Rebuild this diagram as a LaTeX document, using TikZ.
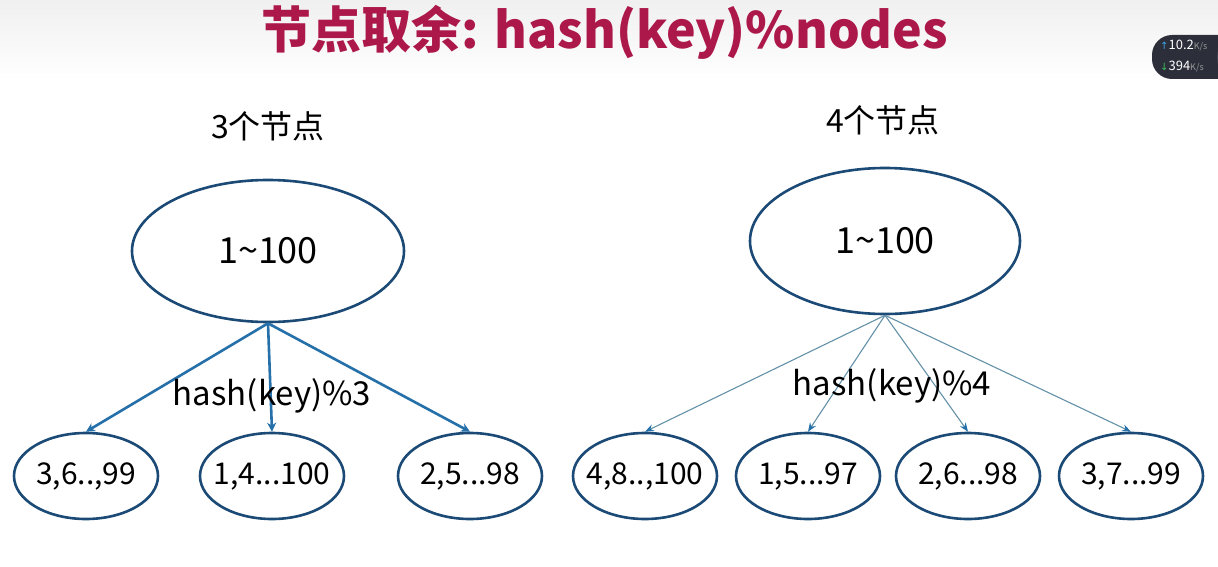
\documentclass[tikz,border=0pt]{standalone}
\usepackage{fontspec}
\setmainfont{Noto Sans CJK SC}
\newfontfamily\symfont{DejaVu Sans}
\usetikzlibrary{arrows.meta,shapes.geometric}
\definecolor{titlered}{RGB}{172,24,74}
\definecolor{ellblue}{RGB}{28,74,118}
\definecolor{arrblue}{RGB}{38,112,170}
\definecolor{arrgrey}{RGB}{100,145,168}
\definecolor{widgetbg}{RGB}{44,47,58}
\definecolor{widgetbtn}{RGB}{66,70,82}
\definecolor{upblue}{RGB}{60,160,230}
\definecolor{downgreen}{RGB}{60,190,90}
\tikzset{
  bigell/.style={ellipse, draw=ellblue, line width=2.6pt, minimum width=272pt, minimum height=142pt, font=\fontsize{36}{40}\selectfont, inner sep=0pt},
  smallell/.style={ellipse, draw=ellblue, line width=2.6pt, minimum width=144pt, minimum height=86pt, font=\fontsize{30}{34}\selectfont, inner sep=0pt},
  heading/.style={font=\fontsize{32}{36}\selectfont, inner sep=0pt},
  hashlabel/.style={font=\fontsize{33}{36}\selectfont, inner sep=0pt},
  thickarrow/.style={draw=arrblue, line width=2.6pt, -{Stealth[length=9pt,width=9pt]}},
  thinarrow/.style={draw=arrgrey, line width=1.1pt, -{Stealth[length=9pt,width=7pt,fill=arrblue,color=arrblue]}},
  widgettext/.style={anchor=west, inner sep=0pt, text=white, font=\fontsize{13}{14}\selectfont},
}
\newcommand{\fixw}[1]{\makebox[0pt][c]{#1}}
\begin{document}
\begin{tikzpicture}[x=1pt,y=-1pt]
\useasboundingbox (0,0) rectangle (1218,567);
\fill[white] (0,0) rectangle (1218,567);
\shade[top color=black!6, bottom color=white] (0,0) rectangle (1218,80);

% title
\node[font=\fontsize{50}{56}\selectfont\bfseries, text=titlered, inner sep=0pt] (title) at (605,32) {节点取余: hash(key)\%nodes};

% widget
\begin{scope}
\clip (0,0) rectangle (1218,567);
\fill[widgetbg, rounded corners=20pt] (1152,35) rectangle (1250,79);
\fill[widgetbtn] (1238,57) circle (21);
\end{scope}
\node[widgettext] (up) at (1160,46) {{\symfont\color{upblue}\fontsize{10}{10}\selectfont ↑}10.2{\color{black!40}\fontsize{9}{9}\selectfont K/s}};
\node[widgettext] (down) at (1160,67) {{\symfont\color{downgreen}\fontsize{10}{10}\selectfont ↓}394{\color{black!40}\fontsize{9}{9}\selectfont K/s}};

% left tree
\node[heading] (h3) at (268,126) {3个节点};
\node[bigell] (L) at (268,251) {\fixw{1\textasciitilde 100}};
\node[smallell] (l1) at (86,476) {\fixw{3,6..,99}};
\node[smallell] (l2) at (272,476) {\fixw{1,4...100}};
\node[smallell] (l3) at (470,476) {\fixw{2,5...98}};
\draw[thickarrow] (L.south) -- (l1.north);
\draw[thickarrow] (L.south) -- (l2.north);
\draw[thickarrow] (L.south) -- (l3.north);
\node[hashlabel] (hl) at (272,396) {hash(key)\%3};

% right tree
\node[heading] (h4) at (883,120) {4个节点};
\node[bigell, minimum width=270pt, minimum height=146pt] (R) at (885,241) {\fixw{1\textasciitilde 100}};
\node[smallell] (r1) at (645,476) {\fixw{4,8..,100}};
\node[smallell] (r2) at (808,476) {\fixw{1,5...97}};
\node[smallell] (r3) at (968,476) {\fixw{2,6...98}};
\node[smallell] (r4) at (1131,476) {\fixw{3,7...99}};
\draw[thinarrow] (R.south) -- (r1.north);
\draw[thinarrow] (R.south) -- (r2.north);
\draw[thinarrow] (R.south) -- (r3.north);
\draw[thinarrow] (R.south) -- (r4.north);
\node[hashlabel] (hr) at (892,386) {hash(key)\%4};
\end{tikzpicture}
\end{document}
